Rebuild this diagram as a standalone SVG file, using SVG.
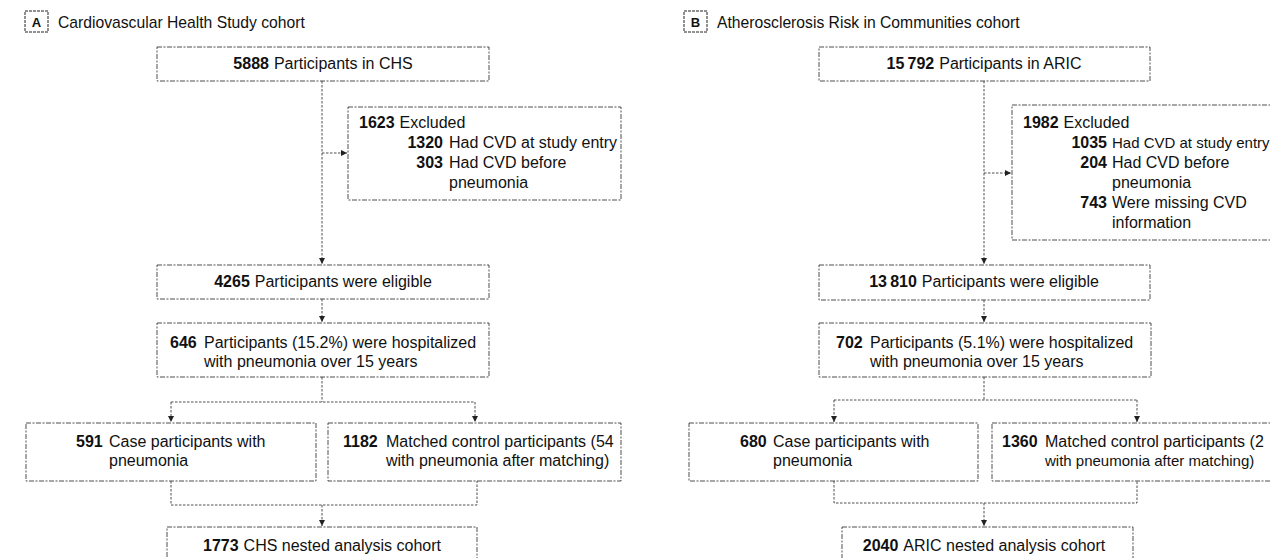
<svg xmlns="http://www.w3.org/2000/svg" width="1270" height="558" viewBox="0 0 1270 558">
<style>
  .bg { fill: #ffffff; }
  .box { fill: none; stroke: #3a3a3a; stroke-width: 0.9; stroke-dasharray: 5 1.5 2 1.5; }
  .lbl { fill: none; stroke: #222; stroke-width: 1; stroke-dasharray: 3 1; }
  .conn { fill: none; stroke: #3a3a3a; stroke-width: 0.9; stroke-dasharray: 2.5 1.5; }
  text { font-family: "Liberation Sans", Arial, sans-serif; font-size: 16px; fill: #111; }
  .b { font-weight: bold; }
  .t { font-size: 15.7px; }
  .lt { font-size: 13px; font-weight: bold; }
  .mid { text-anchor: middle; }
  .end { text-anchor: end; }
  .sm { font-size: 15px; }
</style>
<defs>
  <marker id="ah" markerUnits="userSpaceOnUse" markerWidth="7" markerHeight="7" refX="6" refY="3" orient="auto">
    <path d="M0,0 L6,3 L0,6 z" fill="#222"/>
  </marker>
</defs>
<rect class="bg" x="0" y="0" width="1270" height="558"/>

<!-- Panel A -->
<g id="panelA-title">
  <rect class="lbl" x="25" y="11" width="23" height="21"/>
  <text class="lt mid" x="36.5" y="27">A</text>
  <text class="t" x="58" y="28">Cardiovascular Health Study cohort</text>
</g>
<g id="a-chs">
  <rect class="box" x="157" y="47" width="332" height="34"/>
  <text class="mid" x="323" y="69"><tspan class="b">5888</tspan><tspan dx="5">Participants in CHS</tspan></text>
</g>
<g id="a-excluded">
  <rect class="box" x="348" y="107" width="273" height="93"/>
  <text x="359" y="128"><tspan class="b">1623</tspan><tspan dx="5">Excluded</tspan></text>
  <text class="b end" x="443" y="148">1320</text>
  <text x="449" y="148">Had CVD at study entry</text>
  <text class="b end" x="443" y="168">303</text>
  <text x="449" y="168">Had CVD before</text>
  <text x="449" y="188">pneumonia</text>
</g>
<g id="a-eligible">
  <rect class="box" x="157" y="265" width="332" height="34"/>
  <text class="mid" x="323" y="287"><tspan class="b">4265</tspan><tspan dx="5">Participants were eligible</tspan></text>
</g>
<g id="a-hosp">
  <rect class="box" x="157" y="323" width="332" height="54"/>
  <text class="b" x="170" y="348">646</text>
  <text x="204" y="348">Participants (15.2%) were hospitalized</text>
  <text x="204" y="367">with pneumonia over 15 years</text>
</g>
<g id="a-case">
  <rect class="box" x="26" y="423" width="290" height="58"/>
  <text class="b" x="76" y="447">591</text>
  <text x="109" y="447">Case participants with</text>
  <text x="109" y="466">pneumonia</text>
</g>
<g id="a-control">
  <rect class="box" x="328" y="423" width="293" height="58"/>
  <text class="b" x="343" y="447">1182</text>
  <text x="386" y="447">Matched control participants (54</text>
  <text x="386" y="466">with pneumonia after matching)</text>
</g>
<g id="a-nested">
  <rect class="box" x="167" y="527" width="310" height="40"/>
  <text class="mid" x="322" y="551"><tspan class="b">1773</tspan><tspan dx="5">CHS nested analysis cohort</tspan></text>
</g>

<!-- Panel B -->
<g id="panelB-title">
  <rect class="lbl" x="684" y="11" width="23" height="21"/>
  <text class="lt mid" x="695.5" y="27">B</text>
  <text class="t" x="717" y="28">Atherosclerosis Risk in Communities cohort</text>
</g>
<g id="b-aric">
  <rect class="box" x="819" y="47" width="331" height="34"/>
  <text class="mid" x="984" y="69"><tspan class="b">15&#8201;792</tspan><tspan dx="5">Participants in ARIC</tspan></text>
</g>
<g id="b-excluded">
  <rect class="box" x="1012" y="105" width="270" height="135"/>
  <text x="1023" y="128"><tspan class="b">1982</tspan><tspan dx="5">Excluded</tspan></text>
  <text class="b end" x="1107" y="148">1035</text>
  <text class="sm" x="1112" y="148">Had CVD at study entry</text>
  <text class="b end" x="1107" y="168">204</text>
  <text x="1112" y="168">Had CVD before</text>
  <text x="1112" y="188">pneumonia</text>
  <text class="b end" x="1107" y="208">743</text>
  <text x="1112" y="208">Were missing CVD</text>
  <text x="1112" y="228">information</text>
</g>
<g id="b-eligible">
  <rect class="box" x="819" y="265" width="331" height="35"/>
  <text class="mid" x="984" y="287"><tspan class="b">13&#8201;810</tspan><tspan dx="5">Participants were eligible</tspan></text>
</g>
<g id="b-hosp">
  <rect class="box" x="819" y="323" width="332" height="54"/>
  <text class="b" x="836" y="348">702</text>
  <text x="870" y="348">Participants (5.1%) were hospitalized</text>
  <text x="870" y="367">with pneumonia over 15 years</text>
</g>
<g id="b-case">
  <rect class="box" x="689" y="423" width="289" height="58"/>
  <text class="b" x="740" y="447">680</text>
  <text x="773" y="447">Case participants with</text>
  <text x="773" y="466">pneumonia</text>
</g>
<g id="b-control">
  <rect class="box" x="992" y="423" width="290" height="58"/>
  <text class="b" x="1002" y="447">1360</text>
  <text x="1045" y="447">Matched control participants (2</text>
  <text class="sm" x="1045" y="466">with pneumonia after matching)</text>
</g>
<g id="b-nested">
  <rect class="box" x="842" y="527" width="291" height="40"/>
  <text class="mid" x="984" y="551"><tspan class="b">2040</tspan><tspan dx="5">ARIC nested analysis cohort</tspan></text>
</g>

<!-- Connectors -->
<g id="connectors">
  <path class="conn" d="M322,81 V264" marker-end="url(#ah)"/>
  <path class="conn" d="M322,153 H347" marker-end="url(#ah)"/>
  <path class="conn" d="M322,299 V322" marker-end="url(#ah)"/>
  <path class="conn" d="M322,377 V402 M171,402 H475"/>
  <path class="conn" d="M171,402 V422" marker-end="url(#ah)"/>
  <path class="conn" d="M475,402 V422" marker-end="url(#ah)"/>
  <path class="conn" d="M171,481 V505 H477 V481"/>
  <path class="conn" d="M322,505 V526" marker-end="url(#ah)"/>

  <path class="conn" d="M984,81 V264" marker-end="url(#ah)"/>
  <path class="conn" d="M984,173 H1011" marker-end="url(#ah)"/>
  <path class="conn" d="M984,300 V322" marker-end="url(#ah)"/>
  <path class="conn" d="M984,377 V400 M834,400 H1137"/>
  <path class="conn" d="M834,400 V422" marker-end="url(#ah)"/>
  <path class="conn" d="M1137,400 V422" marker-end="url(#ah)"/>
  <path class="conn" d="M834,481 V503 H1137 V481"/>
  <path class="conn" d="M984,503 V526" marker-end="url(#ah)"/>
</g>
</svg>
